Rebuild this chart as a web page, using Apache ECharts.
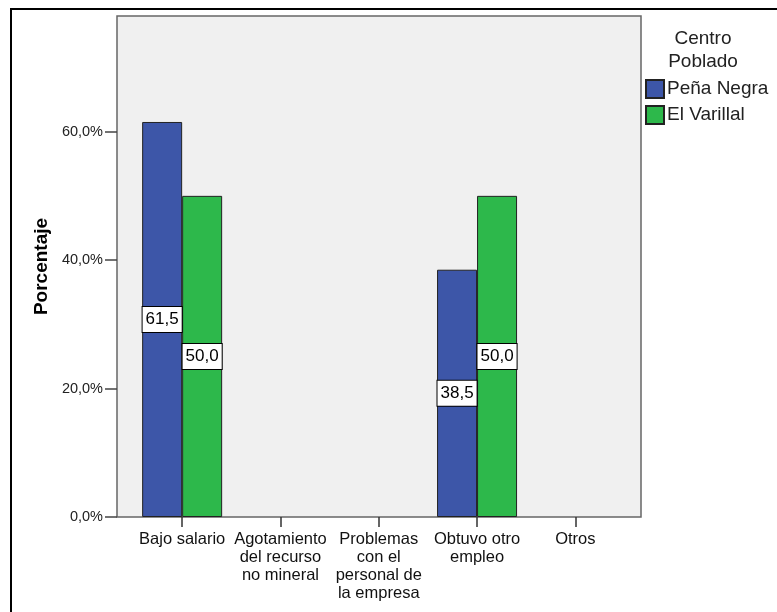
<!DOCTYPE html>
<html>
<head>
<meta charset="utf-8">
<script src="https://cdn.jsdelivr.net/npm/echarts@6/dist/echarts.min.js"></script>
<style>
html,body{margin:0;padding:0;background:#fff;}
#chart{width:777px;height:612px;}
</style>
</head>
<body>
<div id="chart"></div>
<script>
const categories = ['Bajo salario', 'Agotamiento\ndel recurso\nno mineral', 'Problemas\ncon el\npersonal de\nla empresa', 'Obtuvo otro\nempleo', 'Otros'];
const penaNegra = [61.5, null, null, 38.5, null];
const elVarillal = [50.0, null, null, 50.0, null];
const yTicks = [0, 20, 40, 60];
const seriesNames = ['Peña Negra', 'El Varillal'];
const legendTitle = 'Centro\nPoblado';
const yAxisTitle = 'Porcentaje';

const FONT = '"Liberation Sans", Arial, sans-serif';
const chart = echarts.init(document.getElementById('chart'), null, {renderer: 'canvas'});

const labelCfg = {
  show: true,
  position: 'inside',
  color: '#000',
  fontFamily: FONT,
  fontSize: 17,
  lineHeight: 18,
  backgroundColor: '#fff',
  borderColor: '#000',
  borderWidth: 1,
  padding: [4, 3, 3, 3],
  formatter: p => p.value == null ? '' : p.value.toFixed(1).replace('.', ',')
};

chart.setOption({
  animation: false,
  textStyle: {fontFamily: FONT},
  graphic: [
    {type: 'rect', z: -10, shape: {x: 11, y: 9, width: 900, height: 800},
     style: {fill: 'none', stroke: '#000', lineWidth: 2}},
    {type: 'rect', z: -5, shape: {x: 117, y: 16, width: 524, height: 501},
     style: {fill: '#f0f0f0', stroke: '#666', lineWidth: 1.5}},
    {type: 'text', x: 703, y: 27, z: 10,
     style: {text: legendTitle, fontFamily: FONT, fontSize: 19, lineHeight: 23, fill: '#222', align: 'center'}}
  ],
  legend: {
    orient: 'vertical', left: 645, top: 79, padding: 0,
    icon: 'rect',
    itemWidth: 18, itemHeight: 18, itemGap: 6,
    textStyle: {fontFamily: FONT, fontSize: 19, color: '#222', padding: [0, 0, 0, -2]},
    data: seriesNames
  },
  grid: {left: 133, right: 152.5, top: 16, bottom: 95, containLabel: false},
  xAxis: {
    type: 'category', data: categories,
    axisLine: {show: false},
    axisTick: {show: true, alignWithLabel: true, length: 10, lineStyle: {color: '#333', width: 1.5}},
    axisLabel: {interval: 0, margin: 13, color: '#111', fontFamily: FONT, fontSize: 16.5, lineHeight: 18}
  },
  yAxis: {
    type: 'value', min: 0, max: 78, interval: 20, offset: 16,
    name: yAxisTitle, nameLocation: 'middle', nameGap: 65, nameRotate: 90,
    nameTextStyle: {fontFamily: FONT, fontSize: 19, fontWeight: 'bold', color: '#000'},
    axisLine: {show: false},
    splitLine: {show: false},
    axisTick: {show: true, length: 12, customValues: yTicks, lineStyle: {color: '#444', width: 1.5}},
    axisLabel: {customValues: yTicks, margin: 14, color: '#222', fontFamily: FONT, fontSize: 14.5,
      formatter: v => v.toFixed(1).replace('.', ',') + '%'}
  },
  series: [
    {name: seriesNames[0], type: 'bar', data: penaNegra, barWidth: 40, barGap: '0%',
     itemStyle: {color: '#3d56a8', borderColor: '#222', borderWidth: 1}, label: labelCfg},
    {name: seriesNames[1], type: 'bar', data: elVarillal, barWidth: 40, barGap: '0%',
     itemStyle: {color: '#2db84b', borderColor: '#222', borderWidth: 1}, label: labelCfg}
  ]
});
</script>
</body>
</html>
